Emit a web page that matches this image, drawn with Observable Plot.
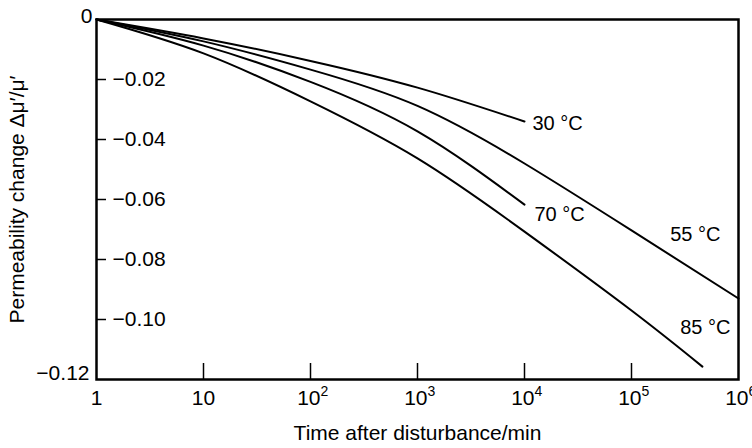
<!DOCTYPE html>
<html>
<head>
<meta charset="utf-8">
<script src="https://cdn.jsdelivr.net/npm/d3@7"></script>
<script src="https://cdn.jsdelivr.net/npm/@observablehq/plot@0.6"></script>
<style>
  html, body { margin: 0; padding: 0; background: #fff; }
  #chart { width: 752px; height: 448px; overflow: hidden; }
</style>
</head>
<body>
<div id="chart"></div>
<script>
// Series labels
const seriesNames = ["30 °C", "55 °C", "70 °C", "85 °C"];

// Time after disturbance (min) and permeability change per series
const times30 = [1, 10, 100, 1000, 10000];
const values30 = [0, -0.0063, -0.0138, -0.0227, -0.0340];

const times55 = [1, 10, 100, 1000, 10000, 100000, 1000000];
const values55 = [0, -0.0073, -0.0167, -0.0288, -0.0480, -0.0703, -0.0930];

const times70 = [1, 10, 100, 1000, 10000];
const values70 = [0, -0.0087, -0.0208, -0.0373, -0.0617];

const times85 = [1, 10, 100, 1000, 10000, 100000, 460000];
const values85 = [0, -0.0113, -0.0273, -0.0463, -0.0707, -0.0970, -0.1157];

// Tick values
const xTickLabelsPlain = [1, 10];
const xTickLabelsPow = [100, 1000, 10000, 100000, 1000000];
const xTickMarks = [10, 100, 1000, 10000, 100000];
const yTicksInner = [-0.02, -0.04, -0.06, -0.08, -0.10];
const yTickTop = [0];
const yTickBottom = [-0.12];

const xTitle = "Time after disturbance/min";
const yTitle = "Permeability change Δμ′/μ′";

const allTimes = [times30, times55, times70, times85];
const allValues = [values30, values55, values70, values85];
const rows = [];
seriesNames.forEach((name, i) => {
  allTimes[i].forEach((t, j) => rows.push({series: name, t, v: allValues[i][j]}));
});
const lastOf = (name) => rows.filter(r => r.series === name).slice(-1);

const fmt = d => d === 0 ? "0" : "\u2212" + Math.abs(d).toFixed(2);

const chart = Plot.plot({
  width: 752,
  height: 448,
  marginLeft: 96,
  marginRight: 14,
  marginTop: 19,
  marginBottom: 69,
  style: {fontFamily: "'Liberation Sans', Arial, Helvetica, sans-serif", fontSize: "21px", color: "black", background: "white"},
  x: {type: "log", domain: [1, 1000000]},
  y: {domain: [-0.12, 0]},
  marks: [
    Plot.frame({stroke: "black", strokeWidth: 2.5}),
    // inner ticks on x axis
    Plot.axisX(xTickMarks, {anchor: "bottom", tickSize: -16, tickFormat: () => "", label: null, strokeWidth: 1.5}),
    // x tick labels
    Plot.axisX(xTickLabelsPlain, {anchor: "bottom", tickSize: 0, tickPadding: 11, tickFormat: d => String(d), label: null}),
    Plot.axisX(xTickLabelsPow, {anchor: "bottom", tickSize: 0, tickPadding: 11, tickFormat: () => "10", textAnchor: "end", dx: 10, label: null}),
    Plot.axisX(xTickLabelsPow, {anchor: "bottom", tickSize: 0, tickPadding: 7, tickFormat: d => String(Math.round(Math.log10(d))), textAnchor: "start", dx: 10, fontSize: 14, label: null}),
    // y ticks with labels inside the frame
    Plot.axisY(yTicksInner, {anchor: "left", tickSize: -10, tickPadding: -6, textAnchor: "start", tickFormat: fmt, label: null, strokeWidth: 1.5}),
    Plot.axisY(yTickTop, {anchor: "left", tickSize: 0, tickPadding: 4, dy: -3, tickFormat: fmt, label: null}),
    Plot.axisY(yTickBottom, {anchor: "left", tickSize: 0, tickPadding: 7, dy: -6, tickFormat: fmt, label: null}),
    // axis titles
    Plot.text([xTitle], {frameAnchor: "bottom", dy: 53.5, textAnchor: "middle", lineAnchor: "middle", text: d => d, fill: "black"}),
    Plot.text([yTitle], {frameAnchor: "left", dx: -79, rotate: -90, textAnchor: "middle", lineAnchor: "middle", text: d => d, fill: "black"}),
    // curves
    Plot.line(rows, {x: "t", y: "v", z: "series", stroke: "black", strokeWidth: 2, curve: "natural"}),
    // curve labels
    Plot.text(lastOf("30 °C"), {x: "t", y: "v", text: "series", textAnchor: "start", dx: 8, dy: 2, fill: "black", fontSize: 20}),
    Plot.text(lastOf("70 °C"), {x: "t", y: "v", text: "series", textAnchor: "start", dx: 10, dy: 10, fill: "black", fontSize: 20}),
    Plot.text(lastOf("55 °C"), {x: "t", y: "v", text: "series", textAnchor: "end", dx: -18, dy: -64, fill: "black", fontSize: 20}),
    Plot.text(lastOf("85 °C"), {x: "t", y: "v", text: "series", textAnchor: "end", dx: 28, dy: -39, fill: "black", fontSize: 20})
  ]
});
document.getElementById("chart").appendChild(chart);
</script>
</body>
</html>
